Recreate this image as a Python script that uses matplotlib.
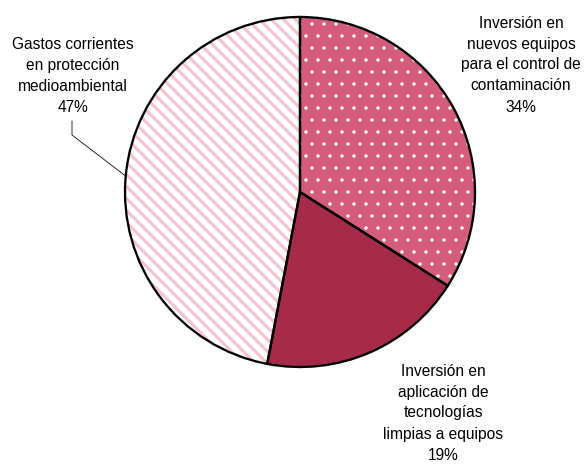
import numpy as np
import matplotlib.pyplot as plt

plt.rcParams['font.family'] = ['Liberation Sans', 'DejaVu Sans']

# data
labels = ['Inversión en\nnuevos equipos\npara el control de\ncontaminación',
          'Inversión en\naplicación de\ntecnologías\nlimpias a equipos',
          'Gastos corrientes\nen protección\nmedioambiental']
shares = [34, 19, 47]
face_colors = ['#D45C7D', '#A62B4A', 'white']
hatch_colors = ['white', '#A62B4A', '#F5C2CE']
hatches = ['.', None, '\\\\']

W, H, DPI = 588, 465, 72
CX, CY, R = 300, 192, 175   # pie centre / radius in pixels


def px(x, y):
    return (x - CX) / R, (CY - y) / R


fig = plt.figure(figsize=(W / DPI, H / DPI), dpi=DPI)
ax = fig.add_axes([0, 0, 1, 1])

plt.rcParams['hatch.linewidth'] = 3.0
# fill + hatch layer
wedges, _ = ax.pie(shares, colors=face_colors, startangle=90, counterclock=False,
                   radius=1, wedgeprops=dict(linewidth=0))
for w, hc, h in zip(wedges, hatch_colors, hatches):
    if h:
        w.set_hatch(h)
        w.set_edgecolor(hc)
        w.set_linewidth(0)
wedges[0]._hatch_linewidth = 0.9
# outline layer
ax.pie(shares, colors=['none'] * 3, startangle=90, counterclock=False, radius=1,
       wedgeprops=dict(linewidth=2.3, edgecolor='black', fill=False))

ax.set_aspect('auto')
ax.set_xlim(px(0, 0)[0], px(W, 0)[0])
ax.set_ylim(px(0, H)[1], px(0, 0)[1])
ax.axis('off')

fs = 15.5
label_pos = [(521, 65), (443, 413), (73, 76)]
for lab, s, (x, y) in zip(labels, shares, label_pos):
    ax.text(*px(x, y), f'{lab}\n{s}%', ha='center', va='center', fontsize=fs,
            linespacing=1.5, color='black')

# leader line for the left label
ang = np.deg2rad(174.8)
tip = (np.cos(ang), np.sin(ang))
p0 = px(72, 121)
p1 = px(72, 135)
ax.plot([p0[0], p1[0], tip[0]], [p0[1], p1[1], tip[1]], color='black', lw=0.8)

fig.savefig('out.png', dpi=DPI)
